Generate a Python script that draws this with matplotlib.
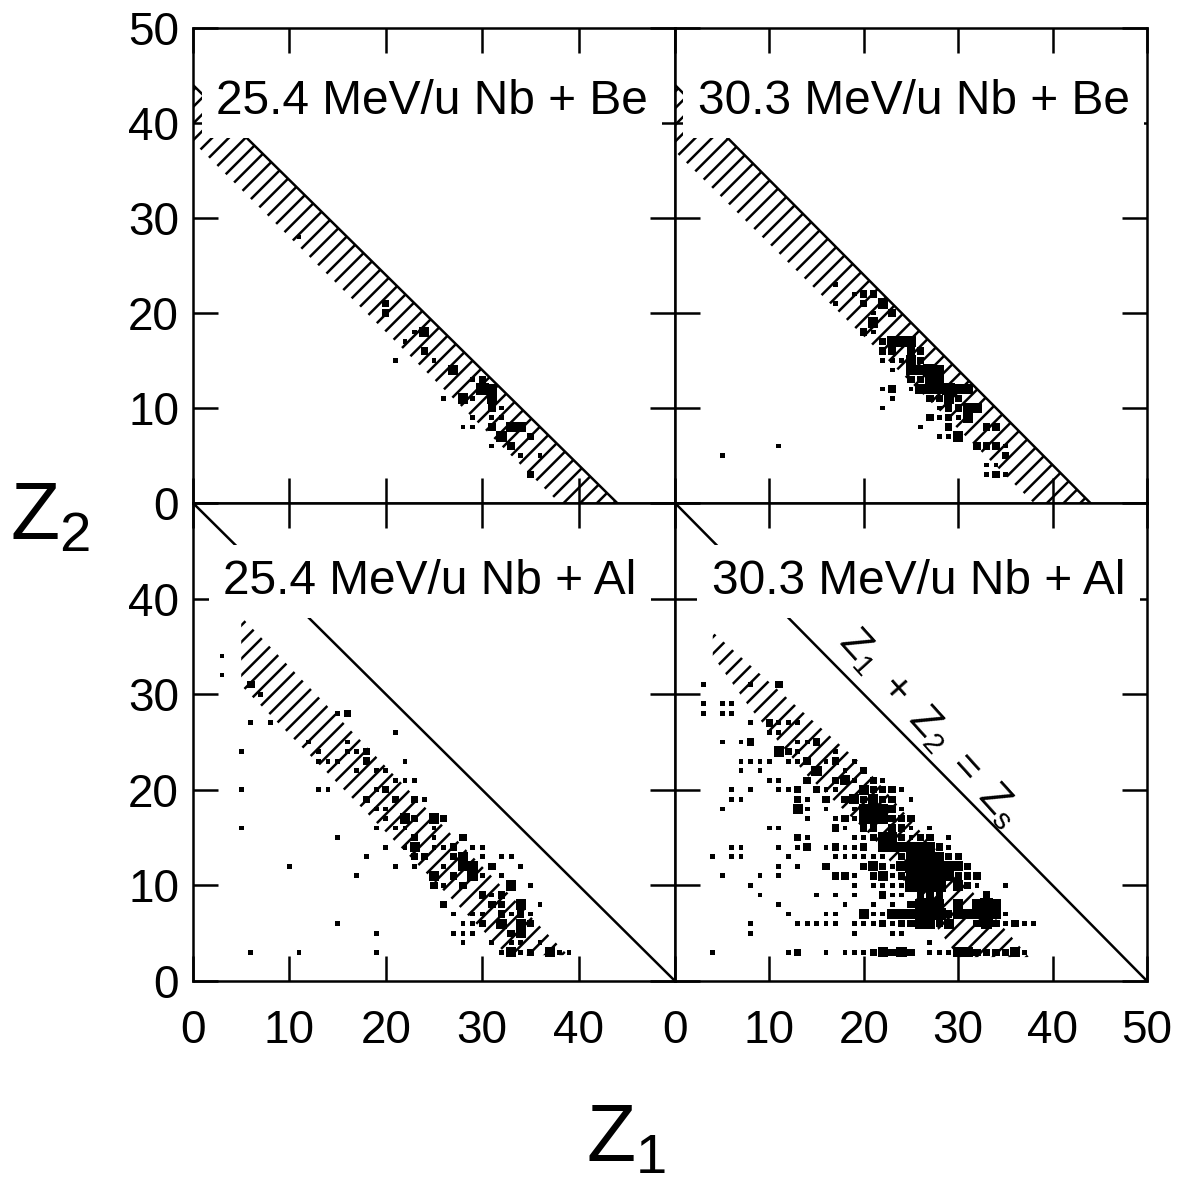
import matplotlib
matplotlib.use("Agg")
from matplotlib import pyplot as plt
import numpy as np

plt.rcParams['font.family'] = ['Liberation Sans', 'DejaVu Sans']
plt.rcParams['mathtext.fontset'] = 'custom'
plt.rcParams['mathtext.rm'] = 'Liberation Sans'
plt.rcParams['mathtext.it'] = 'Liberation Sans'
plt.rcParams['hatch.linewidth'] = 1.8

# panel titles
titles = ["25.4 MeV/u Nb + Be", "30.3 MeV/u Nb + Be",
          "25.4 MeV/u Nb + Al", "30.3 MeV/u Nb + Al"]

# Z1 + Z2 = Zs line for each panel
zs_line = [44, 44, 50, 50]

# hatched band outlines (Z1, Z2)
band_tl = [(0, 38), (0, 44), (44, 0), (38, 0)]
band_tr = [(0, 37), (0, 44), (44, 0), (38, 0)]
band_bl = [(5, 38.1), (38.9, 2.7), (32.6, 2.7), (5, 30.9)]
band_br = [(4, 36.5), (20, 22.5), (37.5, 2.5), (30, 2.5), (26, 8), (21, 15),
           (14, 21.5), (8, 28.5), (4, 34)]

# event counts: (Z1, Z2, size level 1..4)
tl_pts = [(11, 28, 1), (20, 21, 2), (20, 20, 2), (21, 15, 1), (22, 17, 1), (23, 18, 1),
          (24, 18, 3), (24, 16, 2), (25, 15, 1), (26, 11, 1), (27, 14, 3), (28, 11, 3),
          (29, 11, 1), (28, 8, 1), (29, 8, 1), (29, 9, 1), (30, 13, 2), (30, 12, 4),
          (31, 12, 3), (31, 11, 3), (31, 10, 2), (31, 9, 1), (31, 8, 2), (31, 6, 1),
          (32, 9, 1), (32, 7, 3), (33, 8, 3), (34, 8, 3), (33, 6, 2), (34, 5, 1),
          (35, 7, 2), (35, 3, 2), (36, 5, 1), (29, 13, 1), (32, 10, 1)]

tr_pts = [(5, 5, 1), (11, 6, 1), (17, 23, 1), (17, 21, 1), (19, 22, 1), (20, 22, 2),
          (21, 22, 2), (20, 21, 2), (22, 21, 3), (21, 20, 1), (23, 20, 2), (21, 19, 3),
          (20, 18, 2), (21, 18, 1), (22, 17, 2), (23, 17, 3), (24, 17, 3), (25, 17, 3),
          (22, 16, 2), (23, 16, 2), (25, 16, 2), (26, 16, 2), (22, 15, 1), (23, 15, 1),
          (24, 15, 1), (25, 15, 3), (26, 15, 2), (23, 14, 1), (25, 14, 3), (26, 14, 3),
          (27, 14, 4), (28, 14, 3), (25, 13, 2), (26, 13, 2), (27, 13, 3), (28, 13, 3),
          (22, 12, 1), (23, 12, 2), (25, 12, 1), (26, 12, 3), (27, 12, 3), (28, 12, 3),
          (29, 12, 4), (30, 12, 3), (31, 12, 3), (23, 11, 1), (27, 11, 2), (28, 11, 2),
          (29, 11, 3), (30, 11, 2), (22, 10, 1), (28, 10, 1), (29, 10, 2), (30, 10, 2),
          (31, 10, 3), (32, 10, 3), (27, 9, 2), (28, 9, 1), (29, 9, 2), (30, 9, 1),
          (31, 9, 3), (26, 8, 1), (29, 8, 2), (33, 8, 2), (34, 8, 2), (28, 7, 1),
          (29, 7, 1), (30, 7, 3), (32, 6, 2), (33, 6, 2), (34, 6, 2), (35, 6, 1),
          (35, 5, 2), (33, 4, 1), (34, 4, 1), (33, 3, 1), (34, 3, 2), (35, 3, 1)]

bl_pts = [(3, 34, 1), (3, 32, 1), (6, 31, 2), (7, 30, 1), (6, 27, 1), (8, 27, 1),
          (15, 28, 1), (16, 28, 2), (12, 25, 1), (16, 25, 1), (21, 26, 1), (5, 24, 1),
          (13, 24, 1), (16, 24, 1), (17, 24, 1), (18, 24, 2), (13, 23, 1), (14, 23, 1),
          (15, 23, 1), (18, 23, 2), (22, 23, 1), (17, 22, 1), (19, 22, 1), (20, 22, 1),
          (21, 21, 1), (22, 21, 1), (23, 21, 1), (5, 20, 1), (13, 20, 1), (14, 20, 1),
          (19, 20, 1), (20, 20, 2), (18, 19, 2), (21, 19, 2), (23, 19, 2), (24, 19, 1),
          (19, 18, 1), (20, 18, 1), (20, 17, 1), (22, 17, 3), (23, 17, 2), (25, 17, 3),
          (26, 17, 2), (5, 16, 1), (19, 16, 1), (21, 16, 1), (22, 16, 1), (25, 16, 1),
          (15, 15, 1), (23, 15, 2), (25, 15, 1), (28, 15, 2), (20, 14, 1), (22, 14, 1),
          (23, 14, 3), (25, 14, 1), (26, 14, 1), (27, 14, 2), (29, 14, 1), (30, 14, 1),
          (18, 13, 1), (23, 13, 2), (24, 13, 2), (27, 13, 2), (28, 13, 3), (30, 13, 1),
          (32, 13, 1), (33, 13, 1), (10, 12, 1), (21, 12, 1), (23, 12, 1), (26, 12, 1),
          (28, 12, 3), (29, 12, 3), (31, 12, 2), (34, 12, 1), (17, 11, 1), (25, 11, 3),
          (27, 11, 2), (29, 11, 3), (30, 11, 1), (32, 11, 1), (25, 10, 2), (26, 10, 1),
          (28, 10, 2), (33, 10, 3), (35, 10, 1), (30, 9, 2), (31, 9, 1), (32, 9, 2),
          (26, 8, 2), (31, 8, 2), (32, 8, 2), (34, 8, 3), (36, 8, 1), (27, 7, 1),
          (29, 7, 1), (30, 7, 1), (32, 7, 2), (33, 7, 1), (34, 7, 2), (35, 7, 1),
          (15, 6, 1), (28, 6, 1), (29, 6, 1), (30, 6, 2), (32, 6, 3), (34, 6, 3),
          (35, 6, 2), (19, 5, 1), (27, 5, 1), (28, 5, 1), (29, 5, 1), (33, 5, 2),
          (34, 5, 3), (28, 4, 1), (31, 4, 1), (33, 4, 1), (34, 4, 1), (36, 4, 1),
          (6, 3, 1), (11, 3, 1), (19, 3, 1), (32, 3, 1), (33, 3, 3), (34, 3, 1),
          (35, 3, 2), (37, 3, 3), (38, 3, 1), (39, 3, 1)]

br_pts = [(3, 31, 1), (8, 31, 1), (11, 31, 2),
          (3, 29, 1), (5, 29, 1), (6, 29, 1), (3, 28, 1), (5, 28, 1), (6, 28, 1),
          (8, 27, 1), (10, 27, 2), (11, 27, 1), (12, 27, 1), (13, 27, 1),
          (10, 26, 1), (11, 26, 1),
          (5, 25, 1), (7, 25, 1), (8, 25, 2), (13, 25, 1), (14, 25, 1), (15, 25, 2),
          (11, 24, 3), (12, 24, 2), (13, 24, 1), (17, 24, 1),
          (7, 23, 1), (8, 23, 1), (9, 23, 1), (10, 23, 1), (12, 23, 1), (13, 23, 1),
          (14, 23, 2), (16, 23, 1), (17, 23, 2), (19, 23, 1),
          (7, 22, 1), (9, 22, 1), (15, 22, 3), (18, 22, 1), (20, 22, 2),
          (10, 21, 1), (11, 21, 1), (14, 21, 2), (17, 21, 2), (18, 21, 3), (19, 21, 1),
          (21, 21, 2), (22, 21, 1),
          (6, 20, 1), (8, 20, 1), (11, 20, 1), (12, 20, 1), (13, 20, 2), (15, 20, 2),
          (16, 20, 1), (17, 20, 1), (20, 20, 3), (21, 20, 2), (22, 20, 2), (23, 20, 2),
          (24, 20, 1),
          (6, 19, 1), (7, 19, 1), (13, 19, 2), (14, 19, 1), (16, 19, 2), (18, 19, 2),
          (19, 19, 3), (20, 19, 2), (21, 19, 3), (22, 19, 2), (23, 19, 2), (25, 19, 1),
          (5, 18, 1), (13, 18, 3), (14, 18, 1), (16, 18, 1), (19, 18, 1), (20, 18, 3),
          (21, 18, 3), (22, 18, 3), (23, 18, 2), (24, 18, 1),
          (14, 17, 1), (17, 17, 1), (18, 17, 2), (19, 17, 1), (20, 17, 3), (21, 17, 3),
          (22, 17, 3), (23, 17, 2), (24, 17, 2), (25, 17, 2),
          (10, 16, 1), (11, 16, 1), (17, 16, 2), (18, 16, 1), (20, 16, 2), (21, 16, 2),
          (23, 16, 2), (24, 16, 2), (25, 16, 1), (27, 16, 1),
          (13, 15, 2), (14, 15, 1), (19, 15, 1), (20, 15, 1), (21, 15, 2), (22, 15, 3),
          (23, 15, 3), (24, 15, 2), (25, 15, 1), (26, 15, 2), (27, 15, 2), (29, 15, 1),
          (6, 14, 1), (7, 14, 1), (11, 14, 1), (13, 14, 1), (14, 14, 2), (16, 14, 1),
          (17, 14, 2), (18, 14, 1), (19, 14, 1), (20, 14, 2), (22, 14, 3), (23, 14, 3),
          (24, 14, 3), (25, 14, 3), (26, 14, 3), (27, 14, 3), (28, 14, 2), (29, 14, 1),
          (4, 13, 1), (6, 13, 1), (7, 13, 1), (12, 13, 1), (17, 13, 1), (18, 13, 1),
          (19, 13, 1), (20, 13, 1), (21, 13, 1), (22, 13, 1), (24, 13, 2), (25, 13, 3),
          (26, 13, 3), (27, 13, 3), (28, 13, 3), (29, 13, 2), (30, 13, 2),
          (11, 12, 1), (13, 12, 1), (16, 12, 2), (20, 12, 2), (21, 12, 3), (22, 12, 2),
          (23, 12, 1), (24, 12, 3), (25, 12, 4), (26, 12, 4), (27, 12, 4), (28, 12, 3),
          (29, 12, 3), (30, 12, 3), (31, 12, 2),
          (5, 11, 1), (9, 11, 1), (11, 11, 1), (17, 11, 2), (18, 11, 2), (19, 11, 1),
          (21, 11, 2), (22, 11, 3), (23, 11, 1), (24, 11, 2), (25, 11, 3), (26, 11, 4),
          (27, 11, 4), (28, 11, 4), (29, 11, 3), (30, 11, 2), (31, 11, 2), (32, 11, 2),
          (8, 10, 1), (19, 10, 1), (21, 10, 1), (22, 10, 1), (23, 10, 1), (24, 10, 1),
          (25, 10, 4), (26, 10, 4), (27, 10, 4), (28, 10, 4), (30, 10, 3), (31, 10, 2),
          (32, 10, 1), (35, 10, 1),
          (9, 9, 1), (15, 9, 1), (17, 9, 1), (19, 9, 1), (22, 9, 2), (23, 9, 1),
          (24, 9, 1), (26, 9, 2), (27, 9, 2), (28, 9, 2), (33, 9, 2),
          (11, 8, 1), (18, 8, 1), (21, 8, 1), (23, 8, 1), (25, 8, 2), (26, 8, 3),
          (27, 8, 4), (28, 8, 3), (30, 8, 3), (32, 8, 3), (33, 8, 4), (34, 8, 3),
          (12, 7, 1), (16, 7, 1), (17, 7, 1), (20, 7, 3), (21, 7, 1), (22, 7, 1),
          (23, 7, 3), (24, 7, 3), (25, 7, 3), (26, 7, 3), (27, 7, 3), (28, 7, 4),
          (29, 7, 2), (30, 7, 3), (31, 7, 3), (32, 7, 3), (33, 7, 4), (34, 7, 3),
          (35, 7, 1),
          (8, 6, 1), (13, 6, 1), (14, 6, 1), (15, 6, 1), (16, 6, 1), (17, 6, 1),
          (19, 6, 1), (20, 6, 1), (21, 6, 1), (22, 6, 2), (23, 6, 1), (24, 6, 2),
          (25, 6, 2), (26, 6, 3), (27, 6, 3), (28, 6, 2), (29, 6, 3), (32, 6, 2),
          (33, 6, 3), (34, 6, 2), (35, 6, 1), (36, 6, 2), (37, 6, 1), (38, 6, 1),
          (8, 5, 1), (19, 5, 1), (23, 5, 1), (24, 5, 1), (27, 4, 1),
          (4, 3, 1), (12, 3, 1), (13, 3, 2), (16, 3, 1), (18, 3, 1), (19, 3, 1),
          (20, 3, 1), (21, 3, 2), (22, 3, 3), (23, 3, 2), (24, 3, 3), (25, 3, 2),
          (27, 3, 1), (28, 3, 1), (29, 3, 1), (30, 3, 3), (31, 3, 3), (32, 3, 2),
          (33, 3, 2), (34, 3, 2), (35, 3, 2), (36, 3, 3), (37, 3, 1)]

# Title anchor (left edge Z1, centre Z2)
title_pos = [(2.4, 42.3), (2.4, 42.3), (3.1, 41.8), (3.9, 41.8)]

# marker area per size level
marker_area = {1: 12, 2: 28, 3: 54, 4: 85}

fig = plt.figure(figsize=(11.87, 11.84), dpi=100)

W, H = 1187.0, 1184.0
xl, xm, xr = 193, 675, 1147
yt, ym, yb = 28, 503, 981
rects = [
    (xl / W, 1 - ym / H, (xm - xl) / W, (ym - yt) / H),
    (xm / W, 1 - ym / H, (xr - xm) / W, (ym - yt) / H),
    (xl / W, 1 - yb / H, (xm - xl) / W, (yb - ym) / H),
    (xm / W, 1 - yb / H, (xr - xm) / W, (yb - ym) / H),
]
bands = [band_tl, band_tr, band_bl, band_br]
points = [tl_pts, tr_pts, bl_pts, br_pts]
hatches = ['//', '//', '//', '//']

ticks = [0, 10, 20, 30, 40, 50]

for i in range(4):
    ax = fig.add_axes(rects[i])
    ax.set_xlim(0, 50)
    ax.set_ylim(0, 50)

    # hatched band
    poly = plt.Polygon(bands[i], closed=True, facecolor='none', edgecolor='black',
                       linewidth=0, hatch=hatches[i], zorder=1)
    ax.add_patch(poly)

    # Z1 + Z2 = Zs
    zs = zs_line[i]
    ax.plot([0, zs], [zs, 0], color='black', lw=1.8, zorder=2)

    # data
    pts = np.array(points[i])
    sizes = [marker_area[int(v)] for v in pts[:, 2]]
    ax.scatter(pts[:, 0], pts[:, 1], s=sizes, marker='s', color='black',
               linewidths=0, zorder=3)

    ax.text(title_pos[i][0], title_pos[i][1], titles[i], fontsize=34.5,
            ha='left', va='center', zorder=6,
            bbox=dict(facecolor='white', edgecolor='none', boxstyle='square,pad=0.3'))

    ax.set_xticks(ticks)
    ax.set_yticks(ticks)
    ax.tick_params(direction='in', length=18, width=1.8, top=True, right=True,
                   labelsize=33, pad=10)
    ax.tick_params(axis='x', pad=20)
    for sp in ax.spines.values():
        sp.set_linewidth(1.8)

    # tick label visibility
    if i in (0, 2):
        ylab = ['0', '10', '20', '30', '40', '50'] if i == 0 else ['0', '10', '20', '30', '40', '']
        ax.set_yticklabels(ylab)
    else:
        ax.set_yticklabels([])
    if i in (2, 3):
        xlab = ['0', '10', '20', '30', '40', ''] if i == 2 else ['0', '10', '20', '30', '40', '50']
        ax.set_xticklabels(xlab)
    else:
        ax.set_xticklabels([])

    if i == 3:
        ax.text(27.0, 26.5, r'$\mathrm{Z}_1\ +\ \mathrm{Z}_2\ =\ \mathrm{Z}_\mathrm{s}$',
                fontsize=30, rotation=-48, ha='center', va='center',
                rotation_mode='anchor', zorder=6)

fig.text(10 / W, 1 - 518 / H, r'$\mathrm{Z}_2$', fontsize=58, ha='left', va='center')
fig.text(586 / W, 1 - 1140 / H, r'$\mathrm{Z}_1$', fontsize=58, ha='left', va='center')

fig.savefig('out.png', dpi=100)
